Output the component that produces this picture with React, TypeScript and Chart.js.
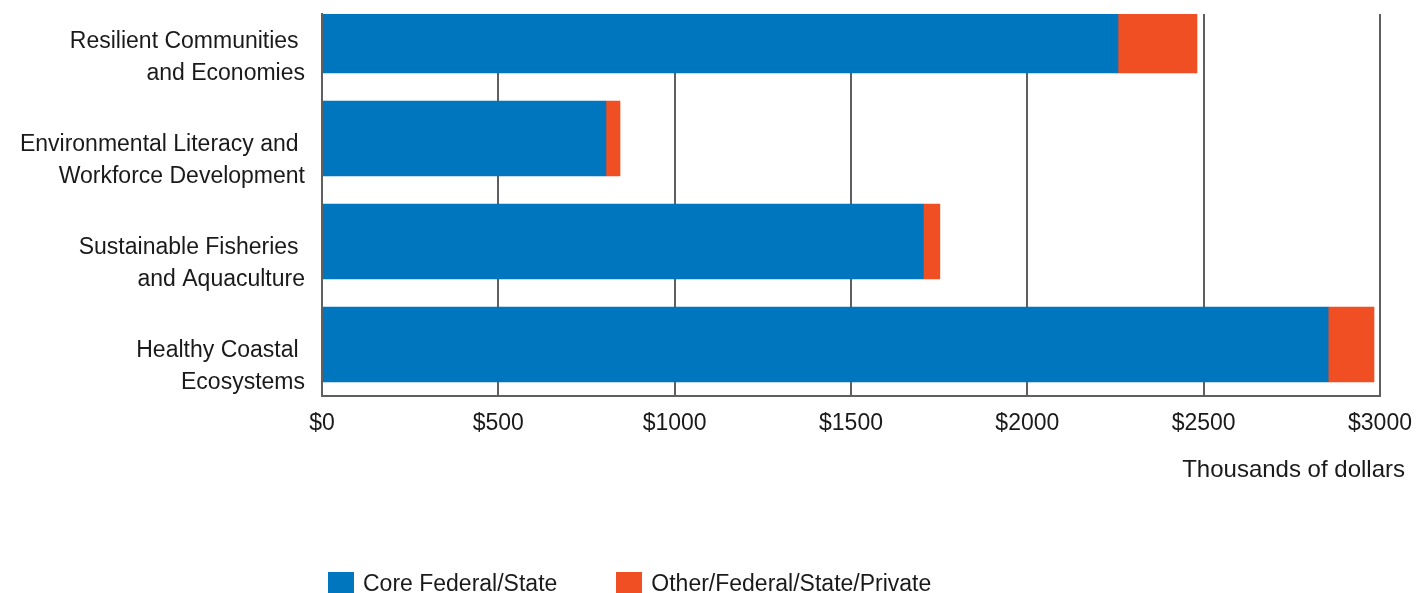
import React, { useEffect, useRef } from 'react';
import { Chart, registerables } from 'chart.js';

Chart.register(...registerables);

const categoryLabels: string[][] = [
  ['Resilient Communities ', 'and Economies'],
  ['Environmental Literacy and ', 'Workforce Development'],
  ['Sustainable Fisheries ', 'and Aquaculture'],
  ['Healthy Coastal ', 'Ecosystems'],
];
const seriesNames = ['Core Federal/State', 'Other/Federal/State/Private'];
const coreValues = [2257, 805, 1705, 2853];
const otherValues = [224, 40, 47, 130];
const xTickValues = [0, 500, 1000, 1500, 2000, 2500, 3000];
const seriesColors = ['#0076BE', '#F04E23'];
const axisTitle = 'Thousands of dollars';

const FONT = "'Liberation Sans', Arial, sans-serif";
const TEXT = '#1a1a1a';
const GRID = '#5f5f5f';

export default function App() {
  const ref = useRef<HTMLCanvasElement>(null);

  useEffect(() => {
    if (!ref.current) return;
    const series = [coreValues, otherValues];
    const chart = new Chart(ref.current, {
      type: 'bar',
      data: {
        datasets: series.map((vals, s) => ({
          label: seriesNames[s],
          data: vals.map((v, i) => ({ x: v, y: i })),
          backgroundColor: seriesColors[s],
          borderWidth: 0,
          barThickness: 75,
          clip: 0,
        })),
      },
      options: {
        indexAxis: 'y',
        responsive: false,
        animation: false,
        devicePixelRatio: 1,
        layout: { padding: { left: 0, top: 14, right: 47, bottom: 147 } },
        plugins: { legend: { display: false }, tooltip: { enabled: false } },
        scales: {
          x: {
            type: 'linear',
            stacked: true,
            min: 0,
            max: 3000,
            afterBuildTicks: (scale: any) => {
              scale.ticks = xTickValues.map((v) => ({ value: v }));
            },
            afterFit: (scale: any) => {
              scale.height = 50;
              scale.paddingLeft = 0;
              scale.paddingRight = 0;
            },
            grid: { color: GRID, lineWidth: 2, drawTicks: false },
            border: { display: true, color: GRID, width: 2 },
            ticks: {
              padding: 14,
              color: TEXT,
              maxRotation: 0,
              font: { family: FONT, size: 23 },
              callback: (v: any) => '$' + v,
            },
          },
          y: {
            type: 'linear',
            stacked: true,
            reverse: true,
            offset: false,
            min: -0.209,
            max: 3.5,
            afterBuildTicks: (scale: any) => {
              scale.ticks = categoryLabels.map((_, i) => ({ value: i }));
            },
            afterFit: (scale: any) => {
              scale.width = 322;
              scale.paddingTop = 0;
              scale.paddingBottom = 0;
            },
            grid: { display: false, drawTicks: false, offset: false },
            border: { display: true, color: GRID, width: 2, z: 1 },
            ticks: {
              padding: 17,
              labelOffset: 22,
              color: TEXT,
              autoSkip: false,
              font: { family: FONT, size: 23, lineHeight: 1.39 },
              callback: (v: any) => categoryLabels[Math.round(v)] ?? '',
            },
          },
        },
      },
    } as any);
    return () => chart.destroy();
  }, []);

  return (
    <div
      style={{
        position: 'absolute',
        left: 0,
        top: 0,
        width: 1427,
        height: 593,
        overflow: 'hidden',
        background: '#fff',
        fontFamily: FONT,
        color: TEXT,
      }}
    >
      <canvas ref={ref} width={1427} height={593} style={{ display: 'block' }} />
      <div
        style={{
          position: 'absolute',
          left: 0,
          top: 457,
          width: 1405,
          textAlign: 'right',
          fontSize: 24,
          lineHeight: '24px',
          whiteSpace: 'nowrap',
        }}
      >
        {axisTitle}
      </div>
      <div
        style={{
          position: 'absolute',
          left: 328,
          top: 572,
          display: 'flex',
          alignItems: 'flex-start',
          fontSize: 23,
          lineHeight: '23px',
          whiteSpace: 'nowrap',
        }}
      >
        {seriesNames.map((name, i) => (
          <div key={name} style={{ display: 'flex', alignItems: 'flex-start', marginRight: 59 }}>
            <div style={{ width: 26, height: 26, background: seriesColors[i], marginRight: 9 }} />
            <div>{name}</div>
          </div>
        ))}
      </div>
    </div>
  );
}
